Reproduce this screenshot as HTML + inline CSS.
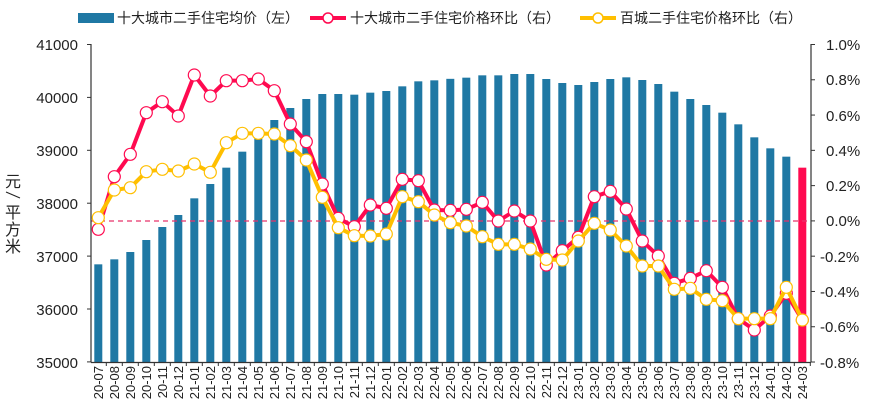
<!DOCTYPE html>
<html><head><meta charset="utf-8">
<style>
html,body{margin:0;padding:0;background:#fff;}
svg{display:block;font-family:"Liberation Sans","Noto Sans CJK SC",sans-serif;}
</style></head>
<body>
<svg id="c" width="877" height="420" viewBox="0 0 877 420" xmlns="http://www.w3.org/2000/svg">
<rect width="877" height="420" fill="#fff"/>
<g font-size="14" fill="#222">
<rect x="78" y="13" width="36" height="10" fill="#1f78a4"/>
<text x="117" y="23">十大城市二手住宅均价（左）</text>
<line x1="310" y1="18" x2="346" y2="18" stroke="#ff0a50" stroke-width="4"/>
<circle cx="328" cy="18" r="5" fill="#fff" stroke="#ff0a50" stroke-width="1.5"/>
<text x="350" y="23">十大城市二手住宅价格环比（右）</text>
<line x1="580" y1="18" x2="616" y2="18" stroke="#ffbf00" stroke-width="4"/>
<circle cx="598" cy="18" r="5" fill="#fff" stroke="#ffbf00" stroke-width="1.5"/>
<text x="620" y="23">百城二手住宅价格环比（右）</text>
</g>
<g id="bars"></g>
<line x1="91" y1="221" x2="811" y2="221" stroke="#e8336b" stroke-width="1.3" stroke-dasharray="5,4"/>
<g id="lines"></g>
<g stroke="#333" stroke-width="1.2" fill="none">
<line x1="91" y1="44" x2="91" y2="362.5"/>
<line x1="811" y1="44" x2="811" y2="362.5"/>
<line x1="91" y1="362.5" x2="811" y2="362.5"/>
</g>
<g id="ticks" stroke="#333" stroke-width="1"></g>
<g font-size="15" fill="#222" text-anchor="end">
<text x="78" y="50">41000</text><text x="78" y="103">40000</text><text x="78" y="156">39000</text>
<text x="78" y="209">38000</text><text x="78" y="262">37000</text><text x="78" y="315">36000</text><text x="78" y="368">35000</text>
</g>
<g font-size="15" fill="#222">
<text x="826" y="50">1.0%</text><text x="826" y="85">0.8%</text><text x="826" y="121">0.6%</text>
<text x="826" y="156">0.4%</text><text x="826" y="191">0.2%</text><text x="826" y="226">0.0%</text>
<text x="820" y="262">-0.2%</text><text x="820" y="297">-0.4%</text><text x="820" y="332">-0.6%</text><text x="820" y="368">-0.8%</text>
</g>
<text x="13" y="187" font-size="16" fill="#222" text-anchor="middle">元</text>
<line x1="6" y1="192" x2="20" y2="198" stroke="#222" stroke-width="1"/>
<text x="13" y="218" font-size="16" fill="#222" text-anchor="middle">平</text>
<text x="13" y="235" font-size="16" fill="#222" text-anchor="middle">方</text>
<text x="13" y="252" font-size="16" fill="#222" text-anchor="middle">米</text>
<g font-size="13" fill="#222" text-anchor="end">
<text transform="translate(103,366) rotate(-90)">20-07</text>
<text transform="translate(119,366) rotate(-90)">20-08</text>
<text transform="translate(135,366) rotate(-90)">20-09</text>
<text transform="translate(151,366) rotate(-90)">20-10</text>
<text transform="translate(167,366) rotate(-90)">20-11</text>
<text transform="translate(183,366) rotate(-90)">20-12</text>
<text transform="translate(199,366) rotate(-90)">21-01</text>
<text transform="translate(215,366) rotate(-90)">21-02</text>
<text transform="translate(231,366) rotate(-90)">21-03</text>
<text transform="translate(247,366) rotate(-90)">21-04</text>
<text transform="translate(263,366) rotate(-90)">21-05</text>
<text transform="translate(279,366) rotate(-90)">21-06</text>
<text transform="translate(295,366) rotate(-90)">21-07</text>
<text transform="translate(311,366) rotate(-90)">21-08</text>
<text transform="translate(327,366) rotate(-90)">21-09</text>
<text transform="translate(343,366) rotate(-90)">21-10</text>
<text transform="translate(359,366) rotate(-90)">21-11</text>
<text transform="translate(375,366) rotate(-90)">21-12</text>
<text transform="translate(391,366) rotate(-90)">22-01</text>
<text transform="translate(407,366) rotate(-90)">22-02</text>
<text transform="translate(423,366) rotate(-90)">22-03</text>
<text transform="translate(439,366) rotate(-90)">22-04</text>
<text transform="translate(455,366) rotate(-90)">22-05</text>
<text transform="translate(471,366) rotate(-90)">22-06</text>
<text transform="translate(487,366) rotate(-90)">22-07</text>
<text transform="translate(503,366) rotate(-90)">22-08</text>
<text transform="translate(519,366) rotate(-90)">22-09</text>
<text transform="translate(535,366) rotate(-90)">22-10</text>
<text transform="translate(551,366) rotate(-90)">22-11</text>
<text transform="translate(567,366) rotate(-90)">22-12</text>
<text transform="translate(583,366) rotate(-90)">23-01</text>
<text transform="translate(599,366) rotate(-90)">23-02</text>
<text transform="translate(615,366) rotate(-90)">23-03</text>
<text transform="translate(631,366) rotate(-90)">23-04</text>
<text transform="translate(647,366) rotate(-90)">23-05</text>
<text transform="translate(663,366) rotate(-90)">23-06</text>
<text transform="translate(679,366) rotate(-90)">23-07</text>
<text transform="translate(695,366) rotate(-90)">23-08</text>
<text transform="translate(711,366) rotate(-90)">23-09</text>
<text transform="translate(727,366) rotate(-90)">23-10</text>
<text transform="translate(743,366) rotate(-90)">23-11</text>
<text transform="translate(759,366) rotate(-90)">23-12</text>
<text transform="translate(775,366) rotate(-90)">24-01</text>
<text transform="translate(791,366) rotate(-90)">24-02</text>
<text transform="translate(807,366) rotate(-90)">24-03</text>
</g>
<script>
(function(){
var NS="http://www.w3.org/2000/svg";
function el(p,t,a){var e=document.createElementNS(NS,t);for(var k in a)e.setAttribute(k,a[k]);p.appendChild(e);return e;}
var bt=[703,688,666,630,591,555,505,462,413,365,325,270,234,207,192,192,194,188,183,169,154,151,146.5,
143,136,136,132,132,147,159,165,156,147,142,150,162,185,207,225,248,283,322,355,380,413];
var red=[598,440,373,248,215,258,135,198,152,152,147,182,282,335,462,565,590,525,535,448,452,540,541,
538,517,573,543,573,705,662,622,500,484,537,633,678,760,745,722,772,866,900,858,790,870];
var yel=[563,480,473,425,418,423,402,427,338,310,310,312,347,390,502,593,617,618,612,500,515,555,578,
588,620,643,643,657,688,690,633,580,600,648,708,708,778,775,808,812,866,866,866,772,870];
var B=document.getElementById('bars'),L=document.getElementById('lines'),T=document.getElementById('ticks');
for(var i=0;i<45;i++){var cx=98.3+16*i,y=30+bt[i]/3;
el(B,'rect',{x:cx-4,y:y,width:8,height:362.5-y,fill:i==44?'#ff0a50':'#1f78a4'});
el(T,'line',{x1:cx+8,y1:362.5,x2:cx+8,y2:366});}
for(var j=0;j<7;j++){el(T,'line',{x1:87,y1:44.5+j*52.9,x2:91,y2:44.5+j*52.9});}
for(var j=0;j<10;j++){el(T,'line',{x1:811,y1:44.5+j*35.28,x2:815,y2:44.5+j*35.28});}
function series(d,c){var p='';for(var i=0;i<45;i++){p+=(i?'L':'M')+(98.3+16*i)+','+(30+d[i]/3);}
el(L,'path',{d:p,fill:'none',stroke:c,'stroke-width':4,'stroke-linejoin':'round'});
for(var i=0;i<45;i++)el(L,'circle',{cx:98.3+16*i,cy:30+d[i]/3,r:6,fill:'#fff',stroke:c,'stroke-width':1.2});}
series(red,'#ff0a50');series(yel,'#ffbf00');
})();
</script>
</svg>
</body></html>
